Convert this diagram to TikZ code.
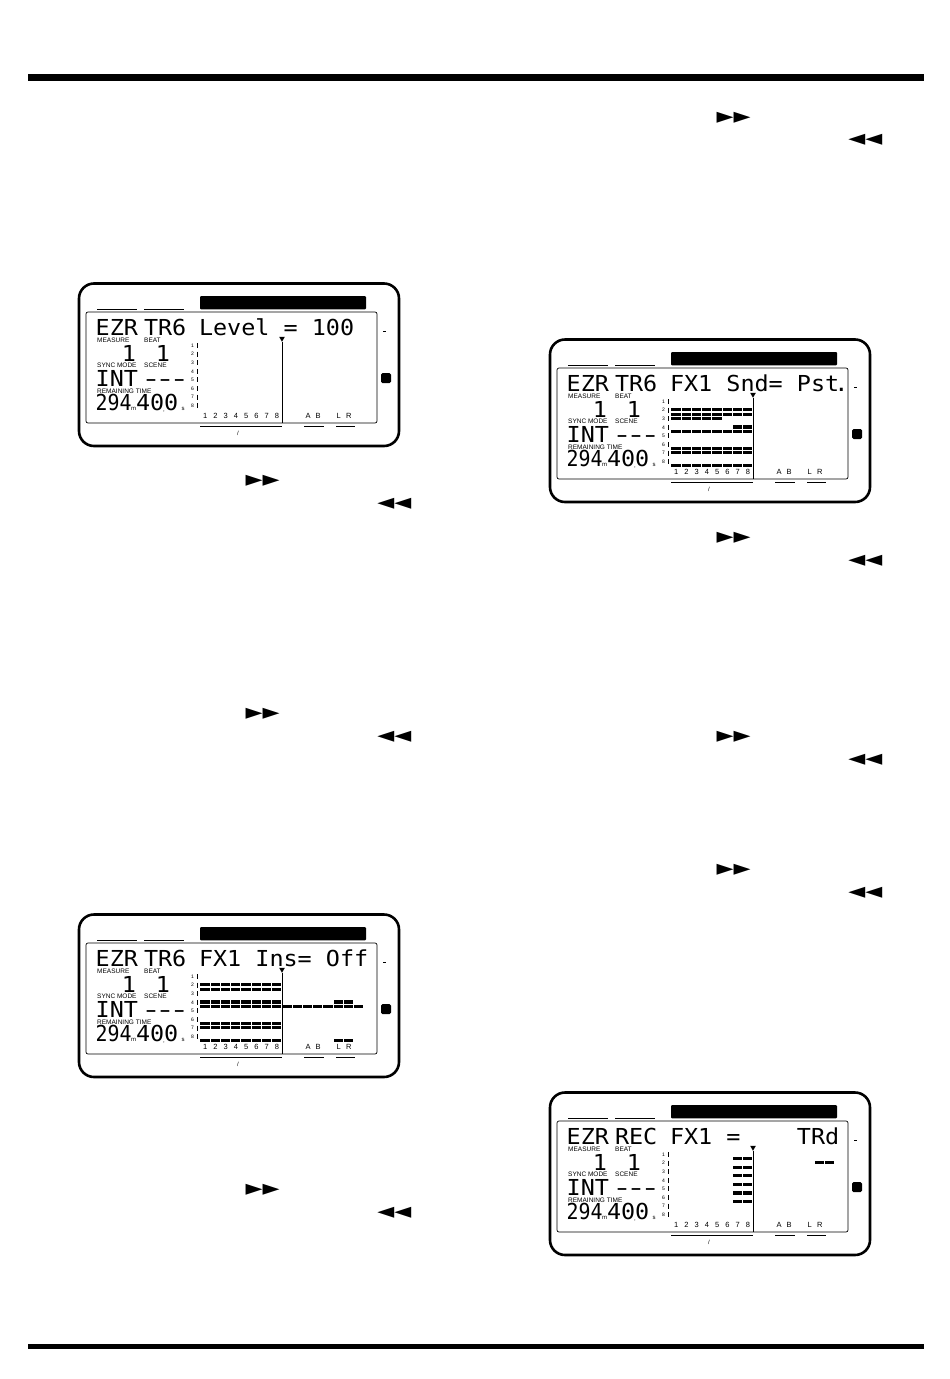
\documentclass[tikz,border=0pt]{standalone}
\usepackage{fontspec}
\usepackage{graphicx}
\setmainfont{Liberation Sans}
\newfontfamily\lcdfont[FakeStretch=1.065]{DejaVu Sans Mono}
\newfontfamily\symfont{DejaVu Sans}
\usetikzlibrary{positioning,calc,shapes.geometric}

\newcommand\vtrack[3]{\foreach \k in {#2,...,#3}
  \fill ({122+10.25*(\k-1)+0.4},{61.6+4.3*#1}) rectangle ++(9.3,3.2);}
\newcommand\lcddash{\makebox[14.1pt]{\scalebox{1.45}[1]{-}}}

\begin{document}
\begin{tikzpicture}[x=1pt,y=-1pt,
    lcd/.style={font=\lcdfont\fontsize{22}{24}\selectfont, anchor=base west, inner sep=0pt},
    lbl/.style={font=\fontsize{6.5}{7}\selectfont, anchor=base west, inner sep=0pt},
    rowno/.style={font=\fontsize{5}{5}\selectfont, anchor=east, inner sep=0pt},
    colno/.style={font=\fontsize{7.5}{8}\selectfont, anchor=base, inner sep=0pt},
    unit/.style={font=\fontsize{6}{6}\selectfont, anchor=base west, inner sep=0pt},
    marker/.style={regular polygon, regular polygon sides=3, shape border rotate=180,
        fill, inner sep=0pt, minimum size=6.5pt},
    ffwd/.style={font=\symfont, inner sep=0pt},
    pics/lcd/.style n args={3}{code={
        \draw[line width=2.6pt, rounded corners=15pt] (1,1.5) rectangle (321,164);
        \draw[line width=0.7pt, rounded corners=2pt] (8,30) rectangle (299,141);
        \fill[rounded corners=1pt] (122,14) rectangle (288,27.3);
        \draw[line width=0.7pt] (19,27) -- (59,27) (66,27) -- (106,27);
        \draw[line width=0.8pt] (305,49) -- (308,49);
        \fill[rounded corners=1.5pt] (303,91) rectangle (313,101);
        \node[lcd] (-blk1) at (17.5,53) {#1};
        \node[lcd] (-blk2) at (65.8,53) {#2};
        \node[lcd] (-blk3) at (120.8,53) {#3};
        \node[lbl] (-meas) at (19,60) {MEASURE};
        \node[lbl] (-beat) at (66,60) {BEAT};
        \node[lcd, anchor=base] (-mval) at (51,79) {1};
        \node[lcd, anchor=base] (-bval) at (85,79) {1};
        \node[lbl] (-sync) at (19,85) {SYNC MODE};
        \node[lbl] (-scene) at (66,85) {SCENE};
        \node[lcd] (-int) at (17.5,104) {INT};
        \node[lcd] (-dash) at (65.8,104) {\lcddash\lcddash\lcddash};
        \node[lbl] (-remain) at (19,111) {REMAINING TIME};
        \node[lcd] (-mins) at (17.5,128) {\scalebox{0.85}[1]{294}};
        \node[unit] (-mu) at (53,128) {m};
        \node[lcd] (-secs) at (57.8,128) {400};
        \node[unit] (-su) at (103.5,128) {s};
        \node[unit, anchor=base] (-dp) at (86,129.5) {,};
        \foreach \n in {1,...,8} {
            \node[rowno] (-r\n) at (116,{63.5+8.6*(\n-1)}) {\n};
            \draw[line width=1.2pt] (119.3,{61+8.6*(\n-1)}) -- ++(0,5);
        }
        \foreach \k in {1,...,8}
            \node[colno] (-c\k) at ({127.1+10.25*(\k-1)},136) {\k};
        \node[colno] (-ca) at (230,136) {A};
        \node[colno] (-cb) at (240,136) {B};
        \node[colno] (-cl) at (260.6,136) {L};
        \node[colno] (-cr) at (270.9,136) {R};
        \node[marker] (-mk) at (204,56.5) {};
        \coordinate (-cend) at (204,140.6);
        \draw[line width=1pt] (-mk.corner 1) -- (-cend);
        \draw[line width=0.7pt] (122,144) -- (204,144) (226,144) -- (246,144) (258,144) -- (277,144);
        \node[unit, anchor=center] (-sl) at (160,151) {/};
    }}
]
    \useasboundingbox (0,0) rectangle (950,1379);
    \fill (28,73.5) rectangle (924,80.5);
    \fill (28,1344) rectangle (924,1349);

    \pic (p1) at (78,282) {lcd={EZR}{TR6}{Level~=~100}};
    \pic (p2) at (78,913) {lcd={EZR}{TR6}{FX1~Ins=~Off}};
    \pic (p3) at (549,338) {lcd={EZR}{TR6}{FX1~Snd=~Pst\kern-5pt.}};
    \pic (p4) at (549,1091) {lcd={EZR}{REC}{FX1~=~~~~TRd}};

    \begin{scope}[shift={(78,913)}]
        \vtrack{2}{1}{8} \vtrack{3}{1}{8}
        \vtrack{6}{1}{8} \vtrack{6}{14}{15} \vtrack{7}{1}{16}
        \vtrack{11}{1}{8} \vtrack{12}{1}{8}
        \vtrack{15}{1}{8} \vtrack{15}{14}{15}
    \end{scope}
    \begin{scope}[shift={(549,338)}]
        \vtrack{2}{1}{8} \vtrack{3}{1}{8} \vtrack{4}{1}{5}
        \vtrack{6}{7}{8} \vtrack{7}{1}{8}
        \vtrack{11}{1}{8} \vtrack{12}{1}{8} \vtrack{15}{1}{8}
    \end{scope}
    \begin{scope}[shift={(549,1091)}]
        \foreach \j in {1,3,5,7,9,11} {\vtrack{\j}{7}{8}}
        \vtrack{2}{15}{16}
    \end{scope}

    \foreach \x/\y [count=\i] in {733.7/117.5, 262.7/481, 733.7/537.5, 262.7/714,
            733.7/737, 733.7/870, 262.7/1190}
        \node[ffwd] (fw\i) at (\x,\y) {\resizebox{34pt}{!}{►►}};
    \foreach \x/\y [count=\i] in {865.3/139.5, 394.3/504, 865.3/561, 394.3/737,
            865.3/760, 865.3/893, 394.3/1213}
        \node[ffwd] (rw\i) at (\x,\y) {\resizebox{34pt}{!}{◄◄}};
\end{tikzpicture}
\end{document}
